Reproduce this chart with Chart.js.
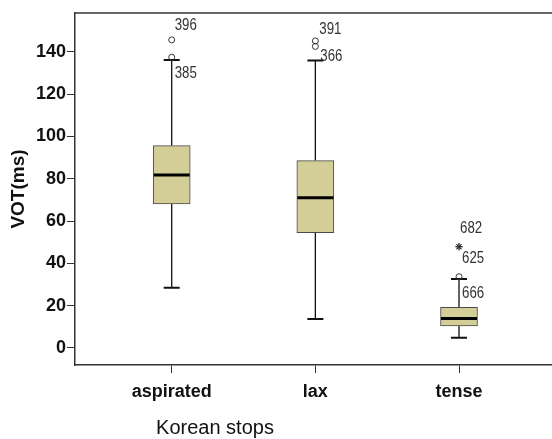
<!DOCTYPE html>
<html>
<head>
<meta charset="utf-8">
<script src="https://cdn.jsdelivr.net/npm/chart.js@4/dist/chart.umd.min.js"></script>
<style>
html,body{margin:0;padding:0;background:#fff;overflow:hidden;}
#c{display:block;}
</style>
</head>
<body>
<canvas id="c" width="552" height="439"></canvas>
<script>
// ---- data ----
const categories = ['aspirated', 'lax', 'tense'];
const q1 = [68.1, 54.5, 10.4];
const median = [81.8, 71.1, 14.0];
const q3 = [95.7, 88.6, 19.2];
const whiskerLow = [28.5, 13.7, 4.9];
const whiskerHigh = [136.2, 135.9, 32.6];
const outlierCategory = [0, 0, 1, 1, 2];
const outlierValues = [145.7, 137.5, 145.2, 142.6, 33.7];
const outlierIds = ['396', '385', '391', '366', '666'];
const extremeCategory = [2, 2];
const extremeValues = [48.0, 47.8];
const extremeIds = ['682', '625'];
const yTicks = [0, 20, 40, 60, 80, 100, 120, 140];
const yTitle = 'VOT(ms)';
const xTitle = 'Korean stops';

// ---- styling (label offsets in px) ----
const outlierLabelOffsets = [[3, -15], [3, 16], [4, -12], [5, 10], [3, 16.5]];
const extremeLabelOffsets = [[1, -18], [3, 11]];

const boxFill = '#d3ce97';
const boxStroke = '#4a4a4a';

const boxPlugin = {
  id: 'boxPlugin',
  beforeDatasetsDraw(chart) {
    const ctx = chart.ctx, xs = chart.scales.x, ys = chart.scales.y;
    ctx.save();
    ctx.strokeStyle = '#111';
    categories.forEach((c, i) => {
      const x = xs.getPixelForValue(i + 1);
      ctx.lineWidth = 1.3;
      ctx.beginPath();
      ctx.moveTo(x, ys.getPixelForValue(q3[i]));
      ctx.lineTo(x, ys.getPixelForValue(whiskerHigh[i]));
      ctx.moveTo(x, ys.getPixelForValue(q1[i]));
      ctx.lineTo(x, ys.getPixelForValue(whiskerLow[i]));
      ctx.stroke();
      ctx.lineWidth = 2;
      ctx.beginPath();
      const yh = ys.getPixelForValue(whiskerHigh[i]);
      const yl = ys.getPixelForValue(whiskerLow[i]);
      ctx.moveTo(x - 8, yh); ctx.lineTo(x + 8, yh);
      ctx.moveTo(x - 8, yl); ctx.lineTo(x + 8, yl);
      ctx.stroke();
    });
    ctx.restore();
  },
  afterDatasetsDraw(chart) {
    const ctx = chart.ctx, xs = chart.scales.x, ys = chart.scales.y;
    ctx.save();
    // medians
    ctx.strokeStyle = '#000';
    ctx.lineWidth = 3;
    const half = 18;
    categories.forEach((c, i) => {
      const x = xs.getPixelForValue(i + 1);
      const y = ys.getPixelForValue(median[i]);
      ctx.beginPath();
      ctx.moveTo(x - half, y); ctx.lineTo(x + half, y);
      ctx.stroke();
    });
    // outlier labels
    ctx.fillStyle = '#333';
    ctx.font = '17px "Liberation Sans", Arial, sans-serif';
    ctx.textBaseline = 'middle';
    ctx.textAlign = 'left';
    const drawLab = (cat, val, id, off) => {
      const x = xs.getPixelForValue(cat + 1) + off[0];
      const y = ys.getPixelForValue(val) + off[1];
      ctx.save();
      ctx.translate(x, y);
      ctx.scale(0.78, 1);
      ctx.fillText(id, 0, 0);
      ctx.restore();
    };
    outlierIds.forEach((id, k) => drawLab(outlierCategory[k], outlierValues[k], id, outlierLabelOffsets[k]));
    extremeIds.forEach((id, k) => drawLab(extremeCategory[k], extremeValues[k], id, extremeLabelOffsets[k]));
    ctx.restore();
  },
  afterDraw(chart) {
    const ctx = chart.ctx, a = chart.chartArea;
    ctx.save();
    ctx.strokeStyle = '#333';
    ctx.lineWidth = 1.5;
    ctx.beginPath();
    ctx.moveTo(a.left, a.top); ctx.lineTo(a.right, a.top);
    ctx.stroke();
    // x axis title
    ctx.fillStyle = '#111';
    ctx.font = '20px "Liberation Sans", Arial, sans-serif';
    ctx.textAlign = 'center';
    ctx.textBaseline = 'middle';
    ctx.fillText(xTitle, 215, 428);
    ctx.restore();
  }
};

new Chart(document.getElementById('c'), {
  type: 'bar',
  data: {
    datasets: [
      {
        type: 'bar',
        data: categories.map((c, i) => ({ x: i + 1, y: [q1[i], q3[i]] })),
        backgroundColor: boxFill,
        borderColor: boxStroke,
        borderWidth: 1,
        borderSkipped: false,
        barThickness: 37,
        order: 2
      },
      {
        type: 'scatter',
        data: outlierValues.map((v, k) => ({ x: outlierCategory[k] + 1, y: v })),
        pointStyle: 'circle',
        pointRadius: 3,
        pointBorderWidth: 1,
        pointBorderColor: '#333',
        pointBackgroundColor: 'rgba(255,255,255,0)',
        order: 1
      },
      {
        type: 'scatter',
        data: extremeValues.map((v, k) => ({ x: extremeCategory[k] + 1, y: v })),
        pointStyle: 'star',
        pointRadius: 3.5,
        pointBorderWidth: 1,
        pointBorderColor: '#333',
        order: 1
      }
    ]
  },
  options: {
    responsive: false,
    animation: false,
    devicePixelRatio: 1,
    layout: { autoPadding: false, padding: { top: 13, left: 0, right: 0, bottom: 0 } },
    plugins: { legend: { display: false }, tooltip: { enabled: false } },
    scales: {
      x: {
        type: 'linear',
        min: 0.3268,
        max: 3.6474,
        offset: false,
        afterBuildTicks: s => { s.ticks = categories.map((c, i) => ({ value: i + 1 })); },
        afterFit: s => { s.height = 74; },
        grid: { offset: false, drawOnChartArea: false, drawTicks: true, tickLength: 8, color: '#333', lineWidth: 1 },
        border: { display: true, color: '#333', width: 1.5 },
        ticks: {
          autoSkip: false, maxRotation: 0, padding: 8, color: '#111',
          font: { family: '"Liberation Sans", Arial, sans-serif', size: 18, weight: 'bold' },
          callback: v => categories[Math.round(v) - 1]
        },
        title: { display: false }
      },
      y: {
        type: 'linear',
        min: -8.04,
        max: 158.4,
        afterBuildTicks: s => { s.ticks = yTicks.map(v => ({ value: v })); },
        afterFit: s => { s.width = 75; },
        grid: { drawOnChartArea: false, drawTicks: true, tickLength: 8, color: '#333', lineWidth: 1 },
        border: { display: true, color: '#333', width: 1.5 },
        ticks: {
          padding: 1, color: '#111',
          font: { family: '"Liberation Sans", Arial, sans-serif', size: 18, weight: 'bold' },
          callback: v => String(v)
        },
        title: {
          display: true, text: yTitle, color: '#111',
          font: { family: '"Liberation Sans", Arial, sans-serif', size: 19, weight: 'bold', lineHeight: 1 },
          padding: { top: 9, bottom: 0 }
        }
      }
    }
  },
  plugins: [boxPlugin]
});
</script>
</body>
</html>
